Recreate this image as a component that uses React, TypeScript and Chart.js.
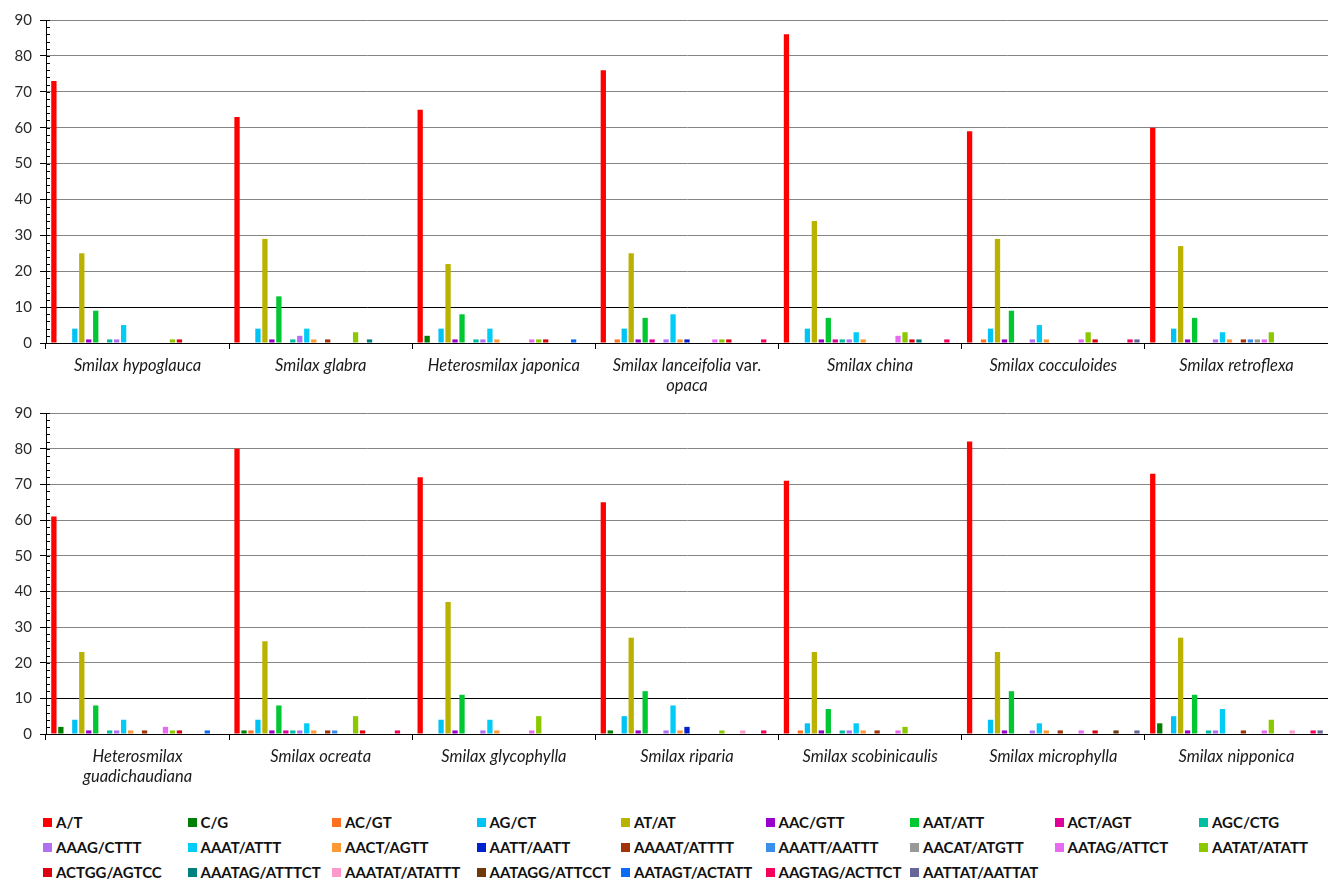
import React, { useEffect, useRef } from "react";
import { Chart, registerables } from "chart.js";
Chart.register(...registerables);

// ---- Data ----
const seriesNames = [
  "A/T", "C/G", "AC/GT", "AG/CT", "AT/AT", "AAC/GTT", "AAT/ATT", "ACT/AGT", "AGC/CTG",
  "AAAG/CTTT", "AAAT/ATTT", "AACT/AGTT", "AATT/AATT", "AAAAT/ATTTT", "AAATT/AATTT", "AACAT/ATGTT", "AATAG/ATTCT", "AATAT/ATATT",
  "ACTGG/AGTCC", "AAATAG/ATTTCT", "AAATAT/ATATTT", "AATAGG/ATTCCT", "AATAGT/ACTATT", "AAGTAG/ACTTCT", "AATTAT/AATTAT",
];
const seriesColors = [
  "#FF0000", "#007F00", "#FF7020", "#00C3F5", "#BAB200", "#9900CC", "#00C832", "#E0009A", "#00BFA0",
  "#B070F0", "#00CCF5", "#FF9933", "#0022CC", "#A0330A", "#3B8EEA", "#999999", "#E66BF0", "#8CC800",
  "#DD0010", "#007F7F", "#FF99CC", "#6E3A0C", "#0A6CF5", "#F5005A", "#666699",
];

const topCategories: (string | string[])[] = [
  "Smilax hypoglauca", "Smilax glabra", "Heterosmilax japonica", ["Smilax lanceifolia var.", "opaca"],
  "Smilax china", "Smilax cocculoides", "Smilax retroflexa",
];
const bottomCategories: (string | string[])[] = [
  ["Heterosmilax", "guadichaudiana"], "Smilax ocreata", "Smilax glycophylla", "Smilax riparia",
  "Smilax scobinicaulis", "Smilax microphylla", "Smilax nipponica",
];

// values per species, in seriesNames order
const hypoglauca = [73, 0, 0, 4, 25, 1, 9, 0, 1, 1, 5, 0, 0, 0, 0, 0, 0, 1, 1, 0, 0, 0, 0, 0, 0];
const glabra = [63, 0, 0, 4, 29, 1, 13, 0, 1, 2, 4, 1, 0, 1, 0, 0, 0, 3, 0, 1, 0, 0, 0, 0, 0];
const japonica = [65, 2, 0, 4, 22, 1, 8, 0, 1, 1, 4, 1, 0, 0, 0, 0, 1, 1, 1, 0, 0, 0, 1, 0, 0];
const lanceifoliaOpaca = [76, 0, 1, 4, 25, 1, 7, 1, 0, 1, 8, 1, 1, 0, 0, 0, 1, 1, 1, 0, 0, 0, 0, 1, 0];
const china = [86, 0, 0, 4, 34, 1, 7, 1, 1, 1, 3, 1, 0, 0, 0, 0, 2, 3, 1, 1, 0, 0, 0, 1, 0];
const cocculoides = [59, 0, 1, 4, 29, 1, 9, 0, 0, 1, 5, 1, 0, 0, 0, 0, 1, 3, 1, 0, 0, 0, 0, 1, 1];
const retroflexa = [60, 0, 0, 4, 27, 1, 7, 0, 0, 1, 3, 1, 0, 1, 1, 1, 1, 3, 0, 0, 0, 0, 0, 0, 0];

const guadichaudiana = [61, 2, 0, 4, 23, 1, 8, 0, 1, 1, 4, 1, 0, 1, 0, 0, 2, 1, 1, 0, 0, 0, 1, 0, 0];
const ocreata = [80, 1, 1, 4, 26, 1, 8, 1, 1, 1, 3, 1, 0, 1, 1, 0, 0, 5, 1, 0, 0, 0, 0, 1, 0];
const glycophylla = [72, 0, 0, 4, 37, 1, 11, 0, 0, 1, 4, 1, 0, 0, 0, 0, 1, 5, 0, 0, 0, 0, 0, 0, 0];
const riparia = [65, 1, 0, 5, 27, 1, 12, 0, 0, 1, 8, 1, 2, 0, 0, 0, 0, 1, 0, 0, 1, 0, 0, 1, 0];
const scobinicaulis = [71, 0, 1, 3, 23, 1, 7, 0, 1, 1, 3, 1, 0, 1, 0, 0, 1, 2, 0, 0, 0, 0, 0, 0, 0];
const microphylla = [82, 0, 0, 4, 23, 1, 12, 0, 0, 1, 3, 1, 0, 1, 0, 0, 1, 0, 1, 0, 0, 1, 0, 0, 1];
const nipponica = [73, 3, 0, 5, 27, 1, 11, 0, 1, 1, 7, 0, 0, 1, 0, 0, 1, 4, 0, 0, 1, 0, 0, 1, 1];

const topRows = [hypoglauca, glabra, japonica, lanceifoliaOpaca, china, cocculoides, retroflexa];
const bottomRows = [guadichaudiana, ocreata, glycophylla, riparia, scobinicaulis, microphylla, nipponica];

const yMin = 0;
const yMax = 90;
const yStep = 10;
const yMinorStep = 2;

const FONT = "Lato, 'Open Sans', sans-serif";

// ---- Plugins ----
const minorTicksPlugin = {
  id: "minorTicks",
  afterDraw(chart: any) {
    const y = chart.scales.y;
    const left = chart.chartArea.left;
    const ctx = chart.ctx;
    ctx.save();
    ctx.strokeStyle = "#000";
    ctx.lineWidth = 1;
    for (let v = yMin; v <= yMax; v += yMinorStep) {
      const py = Math.round(y.getPixelForValue(v)) + 0.5;
      ctx.beginPath();
      ctx.moveTo(left, py);
      ctx.lineTo(left + 4, py);
      ctx.stroke();
    }
    ctx.restore();
  },
};

const LABEL_SIZE = 16.5;

const categoryLabelPlugin = {
  id: "categoryLabels",
  afterDraw(chart: any) {
    const xs = chart.scales.x;
    const ctx = chart.ctx;
    const labels = chart.data.labels as (string | string[])[];
    const base = chart.chartArea.bottom + 23;
    ctx.save();
    ctx.fillStyle = "#1a1a1a";
    ctx.textBaseline = "middle";
    ctx.textAlign = "left";
    labels.forEach((lab, i) => {
      const lines = Array.isArray(lab) ? lab : [lab];
      const cx = xs.getPixelForValue(i);
      lines.forEach((line, li) => {
        const words = line.split(" ");
        const fonts = words.map((w) =>
          w === "var." ? `${LABEL_SIZE}px ${FONT}` : `italic ${LABEL_SIZE}px ${FONT}`
        );
        ctx.font = `${LABEL_SIZE}px ${FONT}`;
        const spaceW = ctx.measureText(" ").width;
        const widths = words.map((w, k) => {
          ctx.font = fonts[k];
          return ctx.measureText(w).width;
        });
        const total = widths.reduce((a, b) => a + b, 0) + spaceW * (words.length - 1);
        let x = cx - total / 2;
        const y = base + li * 20;
        words.forEach((w, k) => {
          ctx.font = fonts[k];
          ctx.fillText(w, x, y);
          x += widths[k] + spaceW;
        });
      });
    });
    ctx.restore();
  },
};

function BarPanel({ categories, rows, top, height, padTop, padBottom }: any) {
  const ref = useRef<HTMLCanvasElement | null>(null);
  useEffect(() => {
    if (!ref.current) return;
    const chart = new Chart(ref.current, {
      type: "bar",
      data: {
        labels: categories,
        datasets: seriesNames.map((name, s) => ({
          label: name,
          data: rows.map((r: number[]) => r[s]),
          backgroundColor: seriesColors[s],
          borderWidth: 0,
          barPercentage: 0.76,
          categoryPercentage: 0.952,
        })),
      },
      options: {
        responsive: false,
        animation: false,
        devicePixelRatio: 1,
        layout: { padding: { top: padTop, bottom: padBottom, left: 0, right: 0 } },
        plugins: { legend: { display: false }, tooltip: { enabled: false } },
        scales: {
          x: {
            offset: true,
            ticks: { display: false },
            grid: {
              display: true,
              offset: true,
              drawOnChartArea: false,
              drawTicks: true,
              tickLength: 6,
              color: "#000",
              tickColor: "#000",
            },
            border: { display: true, color: "#000", width: 1 },
            afterFit: (s: any) => {
              s.height = 6;
            },
          },
          y: {
            min: yMin,
            max: yMax,
            ticks: {
              stepSize: yStep,
              padding: 8,
              color: "#2a2a2a",
              font: { family: FONT, size: 15 },
            },
            grid: {
              drawTicks: true,
              tickLength: 6,
              tickColor: "#000",
              color: (c: any) => (c.tick && c.tick.value === 10 ? "#000" : "#858585"),
              lineWidth: 1,
            },
            border: { display: true, color: "#000", width: 1 },
            afterFit: (s: any) => {
              s.width = 46;
            },
          },
        },
      },
      plugins: [minorTicksPlugin, categoryLabelPlugin],
    });
    return () => chart.destroy();
  }, []);
  return (
    <canvas
      ref={ref}
      width={1328}
      height={height}
      style={{ position: "absolute", left: 0, top, width: 1328, height }}
    />
  );
}

function Legend() {
  const colStep = 144.5;
  const perRow = 9;
  return (
    <div>
      {seriesNames.map((name, i) => {
        const row = Math.floor(i / perRow);
        const col = i % perRow;
        return (
          <div
            key={name}
            style={{
              position: "absolute",
              left: 43 + col * colStep,
              top: 822 + row * 25 - 10,
              height: 20,
              display: "flex",
              alignItems: "center",
              whiteSpace: "nowrap",
              fontFamily: FONT,
              fontWeight: 700,
              fontSize: 15,
              color: "#111",
            }}
          >
            <span
              style={{
                display: "inline-block",
                width: 9,
                height: 9,
                background: seriesColors[i],
                marginRight: 4,
              }}
            />
            <span>{name}</span>
          </div>
        );
      })}
    </div>
  );
}

export default function App() {
  return (
    <div
      style={{
        position: "absolute",
        left: 0,
        top: 0,
        width: 1328,
        height: 879,
        overflow: "hidden",
        background: "#fff",
      }}
    >
      <BarPanel categories={topCategories} rows={topRows} top={0} height={400} padTop={20} padBottom={51} />
      <BarPanel categories={bottomCategories} rows={bottomRows} top={393} height={398} padTop={20} padBottom={51} />
      <Legend />
    </div>
  );
}
